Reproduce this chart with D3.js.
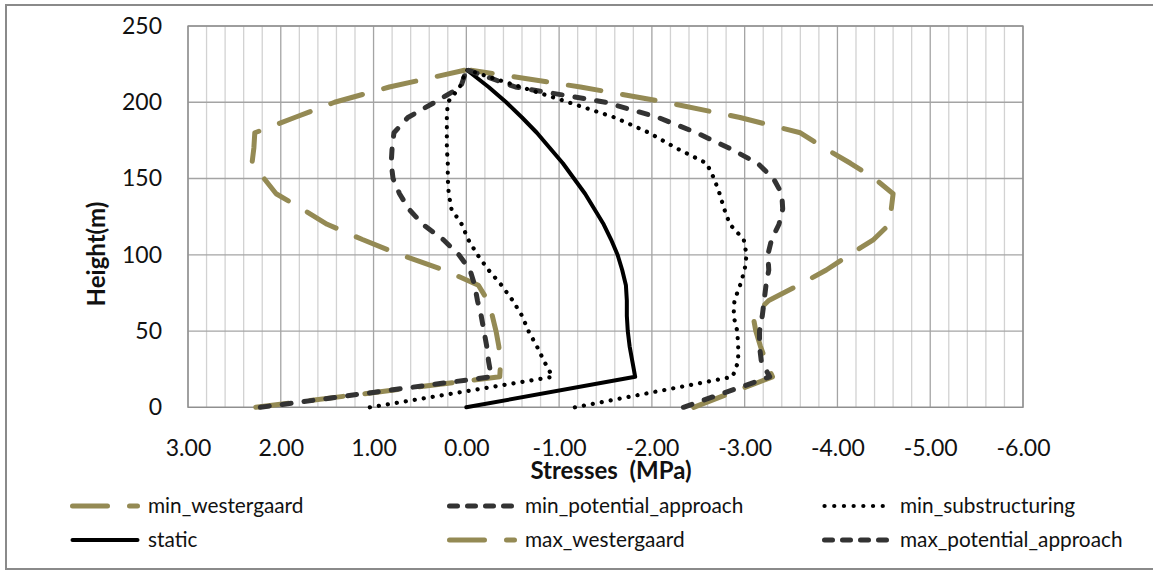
<!DOCTYPE html>
<html>
<head>
<meta charset="utf-8">
<script src="https://cdn.jsdelivr.net/npm/d3@7"></script>
<style>
body{margin:0;background:#fff}
svg{display:block;font-family:Lato,"Open Sans",sans-serif}
</style>
</head>
<body>
<div id="chart"></div>
<script>
// heights (m) shared by every series
var heights=[0,20,30,40,50,60,70,80,90,100,110,120,130,140,150,160,170,180,190,200,210,221];

// stresses (MPa), one value per height
var minWestergaard=[2.27,-0.36,-0.37,-0.35,-0.32,-0.28,-0.23,-0.13,0.24,0.71,1.12,1.50,1.77,2.05,2.18,2.31,2.29,2.28,1.85,1.42,0.83,0.02];
var minPotential=[2.22,-0.27,-0.24,-0.22,-0.19,-0.16,-0.12,-0.09,-0.04,0.08,0.25,0.47,0.62,0.72,0.79,0.81,0.80,0.78,0.63,0.34,0.06,0.00];
var minSubstructuring=[1.04,-0.93,-0.84,-0.76,-0.67,-0.60,-0.50,-0.38,-0.24,-0.12,-0.02,0.05,0.16,0.19,0.20,0.20,0.21,0.21,0.21,0.20,0.07,0.00];
var staticStress=[0.00,-1.82,-1.79,-1.76,-1.74,-1.73,-1.73,-1.72,-1.68,-1.63,-1.56,-1.48,-1.38,-1.28,-1.16,-1.04,-0.90,-0.76,-0.60,-0.43,-0.24,-0.01];
var maxWestergaard=[-2.45,-3.30,-3.23,-3.17,-3.12,-3.09,-3.26,-3.58,-3.88,-4.13,-4.39,-4.56,-4.58,-4.60,-4.40,-4.14,-3.86,-3.60,-2.95,-2.15,-1.23,-0.05];
var maxPotential=[-2.34,-3.27,-3.18,-3.16,-3.16,-3.19,-3.21,-3.23,-3.26,-3.25,-3.29,-3.37,-3.41,-3.40,-3.31,-3.14,-2.83,-2.48,-2.07,-1.50,-0.53,-0.02];
var maxSubstructuring=[-1.17,-2.87,-2.93,-2.93,-2.92,-2.88,-2.89,-2.95,-3.00,-3.02,-2.99,-2.84,-2.78,-2.73,-2.67,-2.59,-2.26,-1.97,-1.60,-1.10,-0.59,-0.02];

var xTicks=[3,2,1,0,-1,-2,-3,-4,-5,-6];
var yTicks=[0,50,100,150,200,250];

var olive="#948A54";
var styles={
  wester:{stroke:olive,width:5,dash:"33,22",legendDash:"35,22"},
  potential:{stroke:"#333",width:5,dash:"9,13",legendDash:"8,10"},
  sub:{stroke:"#000",width:4.2,dash:"0.1,9",legendDash:"0.1,9.6"},
  stat:{stroke:"#000",width:4,dash:null,legendDash:null}
};

var series=[
  {name:"min_westergaard",values:minWestergaard,style:"wester"},
  {name:"min_potential_approach",values:minPotential,style:"potential"},
  {name:"min_substructuring",values:minSubstructuring,style:"sub"},
  {name:"static",values:staticStress,style:"stat"},
  {name:"max_westergaard",values:maxWestergaard,style:"wester"},
  {name:"max_potential_approach",values:maxPotential,style:"potential"},
  {name:"max_substructuring",values:maxSubstructuring,style:"sub",noLegend:true}
];

var width=1153,height=570;
var pLeft=188,pRight=1023,pTop=26,pBottom=407.3;

var svg=d3.select("#chart").append("svg")
  .attr("width",width)
  .attr("height",height);

// outer chart border
svg.append("rect")
  .attr("x",6).attr("y",5)
  .attr("width",1160).attr("height",564)
  .attr("fill","none")
  .attr("stroke","#8a8a8a")
  .attr("stroke-width",2);

var x=d3.scaleLinear().domain([3,-6]).range([pLeft,pRight]);
var y=d3.scaleLinear().domain([0,250]).range([pBottom,pTop]);

// grid
var grid=svg.append("g");
var minor=d3.range(-30,16).map(function(i){return i/5;});
grid.selectAll("line.minor")
  .data(minor.filter(function(d){return Math.abs(d-Math.round(d))>1e-6;}))
  .enter().append("line")
  .attr("x1",function(d){return x(d);}).attr("x2",function(d){return x(d);})
  .attr("y1",pTop).attr("y2",pBottom)
  .attr("stroke","#d2d2d2").attr("stroke-width",1.3);
grid.selectAll("line.major")
  .data(xTicks)
  .enter().append("line")
  .attr("x1",function(d){return x(d);}).attr("x2",function(d){return x(d);})
  .attr("y1",pTop).attr("y2",pBottom)
  .attr("stroke","#a4a4a4").attr("stroke-width",1.3);
grid.selectAll("line.h")
  .data(yTicks)
  .enter().append("line")
  .attr("x1",pLeft).attr("x2",pRight)
  .attr("y1",function(d){return y(d);}).attr("y2",function(d){return y(d);})
  .attr("stroke","#a4a4a4").attr("stroke-width",1.3);
svg.append("rect")
  .attr("x",pLeft).attr("y",pTop)
  .attr("width",pRight-pLeft).attr("height",pBottom-pTop)
  .attr("fill","none").attr("stroke","#8e8e8e").attr("stroke-width",1.3);

// axes
var xAxis=d3.axisBottom(x)
  .tickValues(xTicks)
  .tickFormat(function(d){return d.toFixed(2);})
  .tickSize(0)
  .tickPadding(32);
var yAxis=d3.axisLeft(y)
  .tickValues(yTicks)
  .tickFormat(function(d){return d;})
  .tickSize(0)
  .tickPadding(26);

var gx=svg.append("g").attr("transform","translate(0,"+pBottom+")").call(xAxis);
var gy=svg.append("g").attr("transform","translate("+pLeft+",0)").call(yAxis);
[gx,gy].forEach(function(g){
  g.select(".domain").remove();
  g.selectAll("text")
    .style("font-family","Lato,'Open Sans',sans-serif")
    .style("font-size","23px")
    .attr("fill","#111");
});

svg.append("text")
  .attr("x",611).attr("y",479)
  .attr("text-anchor","middle")
  .style("font-size","24px").style("font-weight","bold")
  .style("white-space","pre")
  .attr("fill","#111")
  .text("Stresses  (MPa)");

svg.append("text")
  .attr("transform","translate(105,254) rotate(-90)")
  .attr("text-anchor","middle")
  .style("font-size","24px").style("font-weight","bold")
  .attr("fill","#111")
  .text("Height(m)");

// series
var line=d3.line()
  .x(function(d){return x(d[0]);})
  .y(function(d){return y(d[1]);});

var lines=svg.append("g");
series.forEach(function(s){
  var st=styles[s.style];
  var pts=s.values.map(function(v,i){return [v,heights[i]];});
  lines.append("path")
    .datum(pts)
    .attr("d",line)
    .attr("fill","none")
    .attr("stroke",st.stroke)
    .attr("stroke-width",st.width)
    .attr("stroke-dasharray",st.dash)
    .attr("stroke-linecap","round")
    .attr("stroke-linejoin","round");
});

// legend: 3 columns, 2 rows
var legendCols=[70,447,822];
var legendRows=[506,540];
var legendItems=series.filter(function(s){return !s.noLegend;});
var lg=svg.append("g");
legendItems.forEach(function(s,i){
  var st=styles[s.style];
  var lx=legendCols[i%3], ly=legendRows[Math.floor(i/3)];
  lg.append("line")
    .attr("x1",lx+2.5).attr("x2",lx+67.5)
    .attr("y1",ly).attr("y2",ly)
    .attr("stroke",st.stroke)
    .attr("stroke-width",st.width)
    .attr("stroke-dasharray",st.legendDash)
    .attr("stroke-linecap","round");
  lg.append("text")
    .attr("x",lx+78).attr("y",ly)
    .attr("dy","0.35em")
    .style("font-size","20.8px")
    .attr("fill","#111")
    .text(s.name);
});
</script>
</body>
</html>
